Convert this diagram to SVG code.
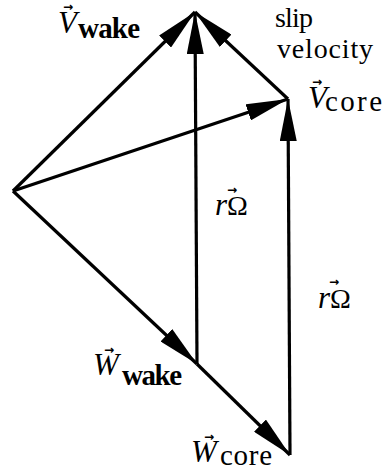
<svg xmlns="http://www.w3.org/2000/svg" width="384" height="476" viewBox="0 0 384 476">
<style>
  .vec { stroke: #000; stroke-width: 3.2; fill: none; marker-end: url(#head); }
  text { font-family: "Liberation Serif", "Times New Roman", serif; font-size: 28px; fill: #000; }
  .it { font-style: italic; font-size: 31px; }
  .sub { font-size: 29px; }
  .b { font-weight: bold; }
  .acc { font-family: "DejaVu Sans", sans-serif; font-size: 12px; font-weight: bold; font-style: normal; }
</style>
<defs>
  <marker id="head" viewBox="0 0 42 17" refX="42" refY="8.5" markerWidth="42" markerHeight="17" markerUnits="userSpaceOnUse" orient="auto">
    <path d="M0,0 L42,8.5 L0,17 Z" fill="#000"/>
  </marker>
</defs>
<rect width="384" height="476" fill="#fff"/>
<g id="connectors">
  <line class="vec" x1="13" y1="191" x2="195" y2="12"/>
  <line class="vec" x1="197" y1="364" x2="195" y2="12"/>
  <line class="vec" x1="288" y1="99" x2="195" y2="12"/>
  <line class="vec" x1="13" y1="191" x2="288" y2="99"/>
  <line class="vec" x1="290" y1="455" x2="288" y2="99"/>
  <line class="vec" x1="13" y1="191" x2="197" y2="364"/>
  <line class="vec" x1="197" y1="364" x2="290" y2="455"/>
</g>
<g id="label-vwake"><text x="58" y="33"><tspan class="it">V</tspan><tspan class="acc" x="63" y="11">→</tspan><tspan class="sub b" x="78" y="38" textLength="62">wake</tspan></text></g>
<g id="label-slip"><text x="275" y="27" textLength="38">slip</text><text x="277" y="58" textLength="96">velocity</text></g>
<g id="label-vcore"><text x="308" y="108"><tspan class="it">V</tspan><tspan class="acc" x="312" y="86">→</tspan><tspan class="sub" x="325" y="111" textLength="57">core</tspan></text></g>
<g id="label-romega1"><text x="215" y="215"><tspan class="it">r</tspan><tspan>Ω</tspan><tspan class="acc" x="227" y="194">→</tspan></text></g>
<g id="label-romega2"><text x="318" y="308"><tspan class="it">r</tspan><tspan>Ω</tspan><tspan class="acc" x="329" y="286">→</tspan></text></g>
<g id="label-wwake"><text x="93" y="375"><tspan class="it">W</tspan><tspan class="acc" x="104" y="354">→</tspan><tspan class="sub b" x="122" y="385" textLength="60">wake</tspan></text></g>
<g id="label-wcore"><text x="191" y="462"><tspan class="it">W</tspan><tspan class="acc" x="204" y="441">→</tspan><tspan class="sub" x="220" y="465" textLength="52">core</tspan></text></g>
</svg>
